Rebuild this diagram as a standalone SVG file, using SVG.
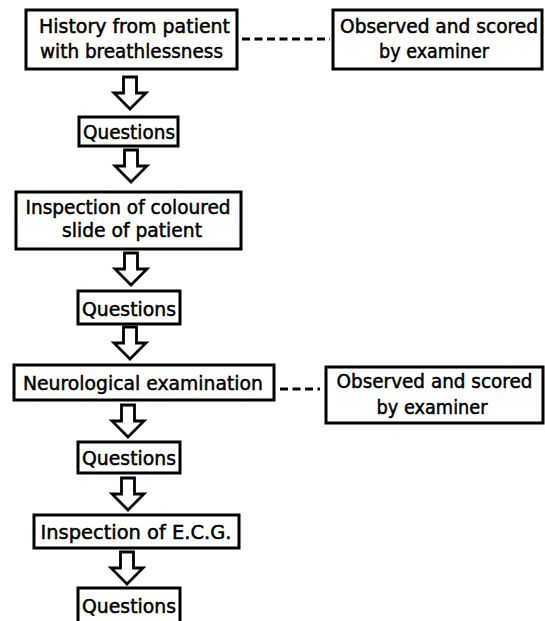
<svg xmlns="http://www.w3.org/2000/svg" width="545" height="621" viewBox="0 0 545 621">
<style>
  .box { fill: #fff; stroke: #000; stroke-width: 3; }
  .t { font-family: "DejaVu Sans", "Liberation Sans", sans-serif; font-size: 19px; fill: #000; stroke: #000; stroke-width: 0.5; text-anchor: middle; }
  .arrow { fill: #fff; stroke: #000; stroke-width: 2.8; stroke-linejoin: miter; }
  .dash { stroke: #000; stroke-width: 3; stroke-dasharray: 8 4.5; fill: none; }
</style>
<defs>
  <polygon id="arr" points="-6.5,0 6.5,0 6.5,16 16,16 0,32 -16,16 -6.5,16"/>
</defs>
<rect width="545" height="621" fill="#fff"/>

<g id="history">
  <rect class="box" x="26" y="10" width="211" height="59"/>
  <text class="t" x="134.5" y="33" textLength="191" lengthAdjust="spacingAndGlyphs">History from patient</text>
  <text class="t" x="131.5" y="58" textLength="183" lengthAdjust="spacingAndGlyphs">with breathlessness</text>
</g>
<g id="observed1">
  <rect class="box" x="333" y="10" width="209" height="59"/>
  <text class="t" x="439" y="33" textLength="198" lengthAdjust="spacingAndGlyphs">Observed and scored</text>
  <text class="t" x="434" y="58" textLength="110" lengthAdjust="spacingAndGlyphs">by examiner</text>
</g>
<g id="questions1">
  <rect class="box" x="79" y="117" width="99" height="29"/>
  <text class="t" x="129" y="139" textLength="92" lengthAdjust="spacingAndGlyphs">Questions</text>
</g>
<g id="slide">
  <rect class="box" x="16" y="192" width="225" height="57"/>
  <text class="t" x="128" y="214" textLength="205" lengthAdjust="spacingAndGlyphs">Inspection of coloured</text>
  <text class="t" x="132" y="237" textLength="140" lengthAdjust="spacingAndGlyphs">slide of patient</text>
</g>
<g id="questions2">
  <rect class="box" x="78" y="291" width="102" height="33"/>
  <text class="t" x="129" y="316" textLength="94" lengthAdjust="spacingAndGlyphs">Questions</text>
</g>
<g id="neuro">
  <rect class="box" x="14" y="365" width="260" height="35"/>
  <text class="t" x="143" y="390" textLength="240" lengthAdjust="spacingAndGlyphs">Neurological examination</text>
</g>
<g id="observed2">
  <rect class="box" x="326" y="367" width="217" height="56"/>
  <text class="t" x="434.5" y="388" textLength="196" lengthAdjust="spacingAndGlyphs">Observed and scored</text>
  <text class="t" x="432" y="414" textLength="111" lengthAdjust="spacingAndGlyphs">by examiner</text>
</g>
<g id="questions3">
  <rect class="box" x="78" y="442" width="102" height="31"/>
  <text class="t" x="129" y="465" textLength="94" lengthAdjust="spacingAndGlyphs">Questions</text>
</g>
<g id="ecg">
  <rect class="box" x="34" y="515" width="205" height="33"/>
  <text class="t" x="136" y="539" textLength="191" lengthAdjust="spacingAndGlyphs">Inspection of E.C.G.</text>
</g>
<g id="questions4">
  <rect class="box" x="78" y="588" width="102" height="40"/>
  <text class="t" x="129" y="613" textLength="94" lengthAdjust="spacingAndGlyphs">Questions</text>
</g>

<g id="connectors">
  <line class="dash" x1="242" y1="39" x2="330" y2="39"/>
  <line class="dash" x1="280" y1="389" x2="320" y2="389"/>
  <use href="#arr" class="arrow" x="130" y="77"/>
  <use href="#arr" class="arrow" x="131" y="150"/>
  <use href="#arr" class="arrow" x="131" y="253"/>
  <use href="#arr" class="arrow" x="130" y="327"/>
  <use href="#arr" class="arrow" x="128" y="405"/>
  <use href="#arr" class="arrow" x="128" y="478"/>
  <use href="#arr" class="arrow" x="127" y="552"/>
</g>
</svg>
